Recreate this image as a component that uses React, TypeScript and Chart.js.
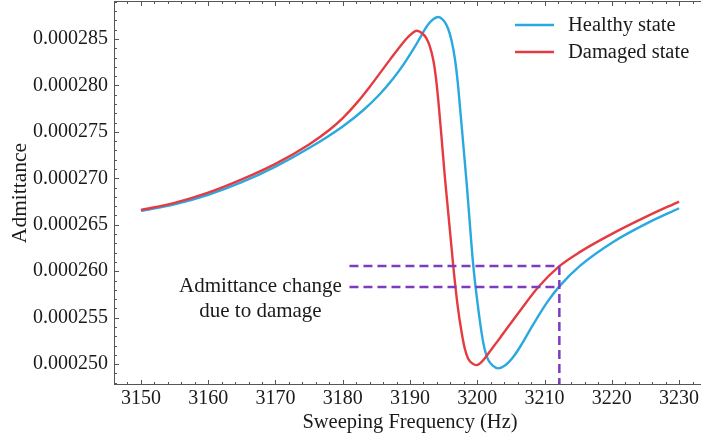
import React, { useEffect, useRef } from "react";
import { Chart, registerables } from "chart.js";

Chart.register(...registerables);

// ---------- data ----------
const healthyFreq = [3150, 3155, 3160, 3165, 3170, 3175, 3180, 3183, 3185.5, 3187.5, 3189, 3190.5, 3191.5, 3192.3, 3192.9, 3193.5, 3194.2, 3194.75, 3195.2, 3195.7, 3196.2, 3196.7, 3197.1, 3197.5, 3198.4, 3199.4, 3200.0, 3200.65, 3201.1, 3201.6, 3202.3, 3203.1, 3204.1, 3205.4, 3206.6, 3207.8, 3210.3, 3212.2, 3215.3, 3220.2, 3225.2, 3230];
const healthyAdm = [2.665e-4, 2.672e-4, 2.6823e-4, 2.6958e-4, 2.7126e-4, 2.7326e-4, 2.7559e-4, 2.773e-4, 2.7905e-4, 2.8075e-4, 2.8222e-4, 2.839e-4, 2.8514e-4, 2.8614e-4, 2.8674e-4, 2.8715e-4, 2.8736e-4, 2.8717e-4, 2.868e-4, 2.8605e-4, 2.8475e-4, 2.8274e-4, 2.803e-4, 2.771e-4, 2.6968e-4, 2.6065e-4, 2.568e-4, 2.5334e-4, 2.516e-4, 2.505e-4, 2.4984e-4, 2.4954e-4, 2.4984e-4, 2.5082e-4, 2.5214e-4, 2.5364e-4, 2.5657e-4, 2.5837e-4, 2.606e-4, 2.6315e-4, 2.6515e-4, 2.6678e-4];

const damagedFreq = [3150, 3155, 3160, 3165, 3170, 3175, 3178, 3180, 3182, 3184, 3187, 3189, 3190, 3191, 3191.8, 3192.4, 3192.9, 3193.46, 3193.85, 3194.2, 3194.7, 3195.2, 3196.44, 3197.06, 3197.69, 3198.15, 3198.65, 3199.3, 3199.92, 3200.5, 3201.2, 3202.2, 3203.38, 3206.36, 3209.08, 3212.16, 3215.28, 3220.23, 3225.2, 3230];
const damagedAdm = [2.666e-4, 2.6735e-4, 2.6845e-4, 2.6988e-4, 2.7155e-4, 2.7365e-4, 2.752e-4, 2.7648e-4, 2.7804e-4, 2.7984e-4, 2.8275e-4, 2.8463e-4, 2.8541e-4, 2.8589e-4, 2.8562e-4, 2.8512e-4, 2.843e-4, 2.8274e-4, 2.8085e-4, 2.7845e-4, 2.743e-4, 2.7e-4, 2.6049e-4, 2.564e-4, 2.5334e-4, 2.5165e-4, 2.5058e-4, 2.5005e-4, 2.4989e-4, 2.5014e-4, 2.507e-4, 2.5168e-4, 2.5282e-4, 2.5575e-4, 2.583e-4, 2.6052e-4, 2.6208e-4, 2.641e-4, 2.659e-4, 2.675e-4];

const xTicks = [3150, 3160, 3170, 3180, 3190, 3200, 3210, 3220, 3230];
const yTicks = [0.00025, 0.000255, 0.00026, 0.000265, 0.00027, 0.000275, 0.00028, 0.000285];

const seriesLabels = ["Healthy state", "Damaged state"];
const markerFreq = 3212.2;
const markerStartFreq = 3181;
const healthyAtMarker = 2.583e-4;
const damagedAtMarker = 2.6055e-4;
const annotationLines = ["Admittance change", "due to damage"];

// axis ranges
const X_MIN = 3146;
const X_MAX = 3234;
const Y_MIN = 2.4775e-4;
const Y_MAX = 2.8909e-4;

// ---------- styles ----------
const BLUE = "#2aa8e0";
const RED = "#e53a40";
const PURPLE = "#7d3cbf";
const TEXT = "#1a1a1a";
const AXIS = "#555555";
const FONT = "'Liberation Serif', 'Times New Roman', serif";

const framePlugin = {
  id: "frame",
  afterDraw(chart: any) {
    const { ctx, chartArea, scales } = chart;
    const { left, right, top, bottom } = chartArea;
    const x = scales.x;
    const y = scales.y;
    ctx.save();
    ctx.strokeStyle = AXIS;
    ctx.lineWidth = 1;
    ctx.strokeRect(left + 0.5, top + 0.5, right - left - 1, bottom - top - 1);

    const drawX = (v: number, len: number) => {
      const px = Math.round(x.getPixelForValue(v)) + 0.5;
      ctx.beginPath();
      ctx.moveTo(px, bottom);
      ctx.lineTo(px, bottom - len);
      ctx.moveTo(px, top);
      ctx.lineTo(px, top + len);
      ctx.stroke();
    };
    const drawY = (v: number, len: number) => {
      const py = Math.round(y.getPixelForValue(v)) + 0.5;
      ctx.beginPath();
      ctx.moveTo(left, py);
      ctx.lineTo(left + len, py);
      ctx.moveTo(right, py);
      ctx.lineTo(right - len, py);
      ctx.stroke();
    };
    for (let k = Math.ceil(X_MIN / 2); k * 2 <= X_MAX; k++) {
      const v = k * 2;
      drawX(v, v % 10 === 0 ? 5 : 3);
    }
    for (let k = Math.ceil(Y_MIN * 1e6); k <= Math.floor(Y_MAX * 1e6); k++) {
      drawY(k * 1e-6, k % 5 === 0 ? 5 : 3);
    }

    // legend
    const legendItems = [
      { label: seriesLabels[0], color: BLUE },
      { label: seriesLabels[1], color: RED },
    ];
    ctx.font = `20.5px ${FONT}`;
    ctx.textBaseline = "middle";
    ctx.textAlign = "left";
    legendItems.forEach((it, i) => {
      const cy = top + 24 + i * 27;
      ctx.strokeStyle = it.color;
      ctx.lineWidth = 2.5;
      ctx.beginPath();
      ctx.moveTo(515, cy);
      ctx.lineTo(554, cy);
      ctx.stroke();
      ctx.fillStyle = TEXT;
      ctx.fillText(it.label, 568, cy + 1);
    });

    // annotation text
    ctx.font = `21px ${FONT}`;
    const ax = x.getPixelForValue(markerStartFreq) - 89;
    const ay = y.getPixelForValue(healthyAtMarker);
    ctx.textAlign = "center";
    ctx.fillStyle = TEXT;
    ctx.fillText(annotationLines[0], ax, ay - 1);
    ctx.fillText(annotationLines[1], ax, ay + 24);
    ctx.restore();
  },
};

export default function App() {
  const ref = useRef<HTMLCanvasElement | null>(null);

  useEffect(() => {
    if (!ref.current) return;
    const healthy = healthyFreq.map((f, i) => ({ x: f, y: healthyAdm[i] }));
    const damaged = damagedFreq.map((f, i) => ({ x: f, y: damagedAdm[i] }));
    const dashStyle = {
      borderColor: PURPLE,
      borderWidth: 2.5,
      borderDash: [9, 5],
      pointRadius: 0,
      tension: 0,
      order: 1,
    };
    const chart = new Chart(ref.current, {
      type: "line",
      data: {
        datasets: [
          {
            label: seriesLabels[0],
            data: healthy,
            borderColor: BLUE,
            borderWidth: 2.4,
            pointRadius: 0,
            cubicInterpolationMode: "monotone",
            order: 3,
          },
          {
            label: seriesLabels[1],
            data: damaged,
            borderColor: RED,
            borderWidth: 2.4,
            pointRadius: 0,
            cubicInterpolationMode: "monotone",
            order: 2,
          },
          {
            label: "damaged level",
            data: [
              { x: markerStartFreq, y: damagedAtMarker },
              { x: markerFreq, y: damagedAtMarker },
            ],
            ...dashStyle,
          },
          {
            label: "healthy level",
            data: [
              { x: markerStartFreq, y: healthyAtMarker },
              { x: markerFreq, y: healthyAtMarker },
            ],
            ...dashStyle,
          },
          {
            label: "marker",
            data: [
              { x: markerFreq, y: damagedAtMarker },
              { x: markerFreq, y: Y_MIN },
            ],
            ...dashStyle,
          },
        ] as any,
      },
      options: {
        animation: false,
        responsive: false,
        maintainAspectRatio: false,
        layout: { padding: { top: 1, right: 4, left: 0, bottom: 0 } },
        plugins: {
          legend: { display: false },
          tooltip: { enabled: false },
          title: { display: false },
        },
        scales: {
          x: {
            type: "linear",
            min: X_MIN,
            max: X_MAX,
            grid: { display: false, drawTicks: false },
            border: { display: false },
            afterBuildTicks: (s: any) => {
              s.ticks = xTicks.map((v) => ({ value: v }));
            },
            afterFit: (s: any) => {
              s.height = 55;
              s.paddingLeft = 0;
              s.paddingRight = 0;
            },
            ticks: {
              color: TEXT,
              font: { family: FONT, size: 20 },
              padding: 2,
              maxRotation: 0,
              autoSkip: false,
              callback: (v: any) => String(v),
            },
            title: {
              display: true,
              text: "Sweeping Frequency (Hz)",
              color: TEXT,
              font: { family: FONT, size: 20.5 },
              padding: { top: 0, bottom: 5 },
            },
          },
          y: {
            type: "linear",
            min: Y_MIN,
            max: Y_MAX,
            grid: { display: false, drawTicks: false },
            border: { display: false },
            afterBuildTicks: (s: any) => {
              s.ticks = yTicks.map((v) => ({ value: v }));
            },
            afterFit: (s: any) => {
              s.width = 114;
              s.paddingTop = 0;
              s.paddingBottom = 0;
            },
            ticks: {
              color: TEXT,
              font: { family: FONT, size: 20 },
              padding: 6,
              autoSkip: false,
              callback: (v: any) => Number(v).toFixed(6),
            },
            title: {
              display: true,
              text: "Admittance",
              color: TEXT,
              font: { family: FONT, size: 21.5 },
              padding: { top: 7, bottom: 0 },
            },
          },
        },
      },
      plugins: [framePlugin],
    } as any);
    return () => chart.destroy();
  }, []);

  return (
    <div
      style={{
        position: "fixed",
        left: 0,
        top: 0,
        width: 701,
        height: 440,
        overflow: "hidden",
        background: "#ffffff",
      }}
    >
      <canvas
        ref={ref}
        width={710}
        height={440}
        style={{ display: "block", width: 710, height: 440 }}
      />
    </div>
  );
}
